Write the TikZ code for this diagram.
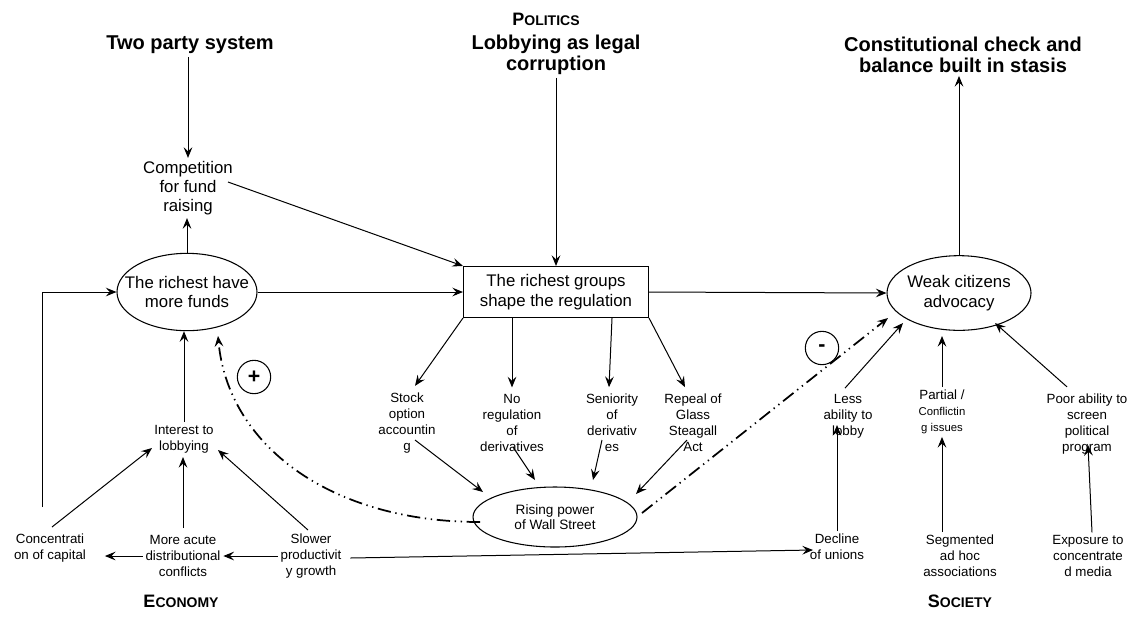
\documentclass[tikz,border=0pt]{standalone}
\usepackage{fontspec}
\setmainfont{Liberation Sans}
\usetikzlibrary{arrows.meta,shapes.geometric,calc}

\tikzset{
  head/.style={font=\bfseries\fontsize{15}{16}\selectfont, align=center, inner sep=2pt},
  big/.style={font=\fontsize{12.6}{14.5}\selectfont, align=center, inner sep=2pt},
  lbl/.style={font=\fontsize{10}{12}\selectfont, align=center, inner sep=2pt},
  oval/.style={draw, ellipse, line width=0.8pt, inner sep=-20pt},
  arr/.style={line width=0.75pt, -{Stealth[length=8pt,width=6.5pt,inset=3pt]}},
  dd/.style={line width=1.3pt, dash pattern=on 10pt off 3.5pt on 1pt off 3.5pt on 1pt off 3.5pt,
             -{Stealth[length=8pt,width=6.5pt,inset=3pt]}},
  sign/.style={draw, circle, line width=0.8pt, minimum size=25pt, inner sep=0pt,
               font=\bfseries\fontsize{16}{16}\selectfont},
  sect/.style={font=\bfseries, inner sep=1pt}
}

\begin{document}
\begin{tikzpicture}[x=0.75pt, y=-0.75pt]
\fill[white] (0,0) rectangle (1127,637);
\useasboundingbox (0,0) rectangle (1127,637);

% section titles
\node[sect] (pol) at (546,19) {{\fontsize{13.5}{14}\selectfont P}{\fontsize{10.5}{14}\selectfont OLITICS}};
\node[sect] (eco) at (181,601) {{\fontsize{13.5}{14}\selectfont E}{\fontsize{10.5}{14}\selectfont CONOMY}};
\node[sect] (soc) at (960,601) {{\fontsize{13.5}{14}\selectfont S}{\fontsize{10.5}{14}\selectfont OCIETY}};

% political headers
\node[head] (tps)  at (190,45) {Two party system};
\node[head] (lob)  at (556,55) {Lobbying as legal\\corruption};
\node[head] (cons) at (963,55) {Constitutional check and\\balance built in stasis};

% main chain
\node[big] (comp) at (188,188) {Competition\\for fund\\raising};
\node[big, oval, minimum width=105pt, minimum height=58pt] (funds) at (187,292) {The richest have\\more funds};
\node[big, draw, line width=0.8pt, minimum width=138.75pt, minimum height=38.25pt] (rect) at (556,292) {The richest groups\\shape the regulation};
\node[big, oval, minimum width=108pt, minimum height=56pt] (weak) at (959,293) {Weak citizens\\advocacy};
\node[oval, font=\fontsize{10.2}{11.5}\selectfont, align=center, minimum width=123pt, minimum height=45pt] (rising) at (555,517) {Rising power\\of Wall Street};

% regulation outcomes
\node[lbl] (stock) at (407,423) {Stock\\option\\accountin\\g};
\node[lbl] (nreg)  at (512,423) {No\\regulation\\of\\derivatives};
\node[lbl] (sen)   at (612,423) {Seniority\\of\\derivativ\\es};
\node[lbl] (rep)   at (693,423) {Repeal of\\Glass\\Steagall\\Act};

% economy
\node[lbl] (inter) at (184,439) {Interest to\\lobbying};
\node[lbl] (conc)  at (50,548)  {Concentrati\\on of capital};
\node[lbl] (more)  at (183,556) {More acute\\distributional\\conflicts};
\node[lbl] (slow)  at (311,556) {Slower\\productivit\\y growth};

% society
\node[lbl] (less) at (848,416) {Less\\ability to\\lobby};
\node[lbl] (part) at (942,412) {Partial /\\\fontsize{8.5}{10}\selectfont Conflictin\\\fontsize{8.5}{10}\selectfont g issues};
\node[lbl] (poor) at (1087,424) {Poor ability to\\screen\\political\\program};
\node[lbl] (decl) at (837,547) {Decline\\of unions};
\node[lbl] (seg)  at (960,556) {Segmented\\ad hoc\\associations};
\node[lbl] (expo) at (1088,556) {Exposure to\\concentrate\\d media};

% loop signs
\node[sign] (plus)  at (254,377) {+};
\node[sign] (minus) at (822,348) {-};

% politics links
\draw[arr] (comp.north |- tps.south) -- (comp.north);
\draw[arr] (funds.north) -- (funds.north |- comp.south);
\draw[arr] ($(comp.center)+(40,-6)$) -- (rect.north west);
\draw[arr] (lob.south) -- (rect.north);
\draw[arr] (funds.east) -- (rect.west);
\draw[arr] (rect.east) -- (weak.west);
\draw[arr] (weak.north) -- (weak.north |- cons.south);

% capital concentration feeds funds
\coordinate (cbot) at (42,507);
\coordinate (cbend) at (42,292);
\draw[arr] (cbot) -- (cbend) -- (funds.west);

% regulation outcomes
\draw[arr] (rect.south west) -- ($(stock.north)+(8,-4)$);
\draw[arr] (nreg.north |- rect.south) -- ($(nreg.north)+(0,-4)$);
\draw[arr] (sen.north |- rect.south) -- ($(sen.north)+(-3,-4)$);
\draw[arr] (rect.south east) -- ($(rep.north)+(-8,-4)$);

\draw[arr] ($(stock.center)+(8,17)$) -- ($(rising.center)+(-72,-25)$);
\draw[arr] ($(nreg.center)+(1,24)$) -- ($(rising.center)+(-20,-37)$);
\draw[arr] ($(sen.center)+(-10,17)$) -- ($(rising.center)+(38,-37)$);
\draw[arr] ($(rep.center)+(-6,17)$) -- ($(rising.center)+(81,-23)$);

% economy links
\draw[arr] (inter.north) -- (inter.north |- funds.south);
\draw[arr] ($(conc.center)+(2,-21)$) -- ($(inter.center)+(-32,9)$);
\draw[arr] ($(more.center)+(0,-28)$) -- ($(inter.center)+(-1,18)$);
\draw[arr] ($(slow.center)+(-3,-26)$) -- ($(inter.center)+(34,11)$);
\draw[arr] (slow.west) -- (more.east);
\draw[arr] (more.west) -- ($(conc.east |- more.west)+(16,0)$);
\draw[arr] ($(slow.east)+(6,2)$) -- ($(decl.center)+(-24,3)$);

% society links
\draw[arr] (decl.north) -- ($(less.center)+(-11,9)$);
\draw[arr] (part.south |- seg.north) -- (part.south);
\draw[arr] ($(expo.north)+(4,0)$) -- ($(poor.center)+(1,21)$);
\draw[arr] ($(less.north)+(-3,-3)$) -- ($(weak.center)+(-56,30)$);
\draw[arr] (part.north) -- ($(weak.center)+(-17,43)$);
\draw[arr] ($(poor.north)+(-20,-4)$) -- ($(weak.center)+(36,30)$);

% reinforcing and balancing effects of Wall Street
\draw[dd] ($(rising.center)+(-75,5)$) .. controls (330,522) and (228,445) .. ($(funds.center)+(31,44)$);
\draw[dd] ($(rising.center)+(87,-4)$) -- ($(weak.center)+(-71,25)$);
\end{tikzpicture}
\end{document}
